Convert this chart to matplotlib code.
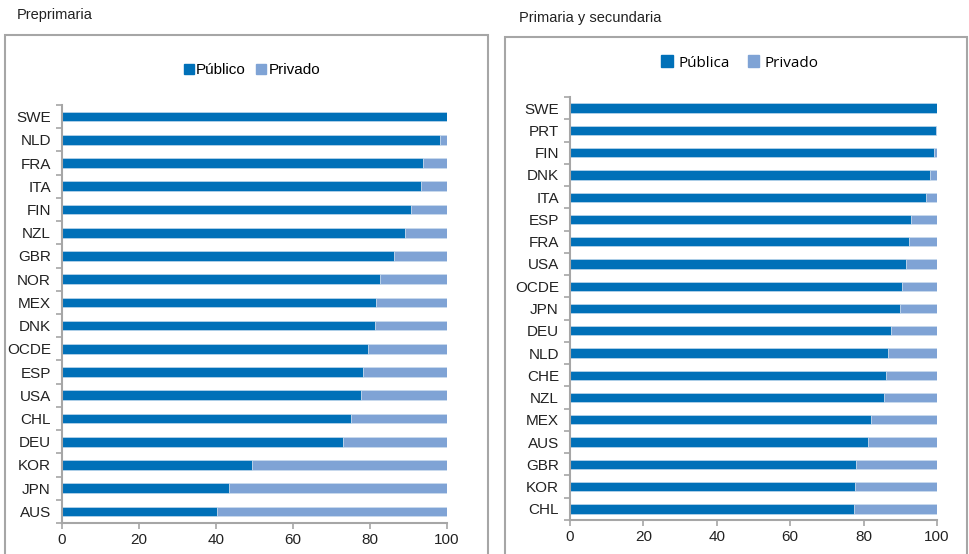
import matplotlib.pyplot as plt
from matplotlib.patches import Rectangle, Patch
from matplotlib.ticker import FixedLocator

# Preprimaria: share of public enrolment (%)
pre_countries = ["SWE", "NLD", "FRA", "ITA", "FIN", "NZL", "GBR", "NOR", "MEX",
                 "DNK", "OCDE", "ESP", "USA", "CHL", "DEU", "KOR", "JPN", "AUS"]
pre_public = [100.0, 98.3, 93.7, 93.2, 90.6, 89.2, 86.2, 82.5, 81.5,
              81.2, 79.4, 78.1, 77.7, 75.0, 73.0, 49.4, 43.4, 40.3]

# Primaria y secundaria: share of public enrolment (%)
prim_countries = ["SWE", "PRT", "FIN", "DNK", "ITA", "ESP", "FRA", "USA", "OCDE", "JPN",
                  "DEU", "NLD", "CHE", "NZL", "MEX", "AUS", "GBR", "KOR", "CHL"]
prim_public = [100.0, 99.8, 99.3, 98.2, 97.1, 93.0, 92.5, 91.6, 90.5, 89.9,
               87.5, 86.7, 86.0, 85.6, 82.1, 81.3, 78.0, 77.7, 77.3]

DARK = "#0070B8"
LIGHT = "#7FA3D5"
GRAY = "#A6A6A6"

plt.rcParams['font.family'] = ['Liberation Sans', 'DejaVu Sans']

fig = plt.figure(figsize=(9.7, 5.54), dpi=100)


def draw_panel(ax, countries, public):
    n = len(countries)
    pos = list(range(n - 1, -1, -1))
    private = [100 - v for v in public]
    ax.barh(pos, public, height=0.42, color=DARK, edgecolor="#CFE0F0", linewidth=0.4)
    ax.barh(pos, private, left=public, height=0.42, color=LIGHT, edgecolor="#CFE0F0", linewidth=0.4)
    ax.set_xlim(0, 100)
    ax.set_ylim(-0.5, n - 0.5)
    ax.set_yticks(pos)
    ax.set_yticklabels(countries, fontsize=11, color="#222222")
    ax.yaxis.set_minor_locator(FixedLocator([i - 0.5 for i in range(n + 1)]))
    ax.tick_params(axis="y", which="major", length=0, pad=8)
    ax.tick_params(axis="y", which="minor", length=4, color=GRAY, width=1.2)
    ax.set_xticks([0, 20, 40, 60, 80, 100])
    ax.tick_params(axis="x", length=4, color=GRAY, width=1.2, labelsize=11, labelcolor="#222222")
    for s in ["top", "right"]:
        ax.spines[s].set_visible(False)
    for s in ["left", "bottom"]:
        ax.spines[s].set_color(GRAY)
        ax.spines[s].set_linewidth(1.5)


# panel frames
fig.add_artist(Rectangle((5 / 970, -0.05), 483 / 970, 1.05 - 35 / 554, transform=fig.transFigure,
                         fill=False, edgecolor=GRAY, linewidth=1.5))
fig.add_artist(Rectangle((505 / 970, -0.05), 462 / 970, 1.05 - 37 / 554, transform=fig.transFigure,
                         fill=False, edgecolor=GRAY, linewidth=1.5))

fig.text(17 / 970, 1 - 15 / 554, "Preprimaria", fontsize=10.5, va="center", color="#222222")
fig.text(519 / 970, 1 - 18 / 554, "Primaria y secundaria", fontsize=10.5, va="center", color="#222222")

ax1 = fig.add_axes([62 / 970, 1 - 523 / 554, 385 / 970, 418 / 554])
draw_panel(ax1, pre_countries, pre_public)

ax2 = fig.add_axes([570 / 970, 1 - 520 / 554, 367 / 970, 423 / 554])
draw_panel(ax2, prim_countries, prim_public)

fig.legend(handles=[Patch(color=DARK, label="Público"), Patch(color=LIGHT, label="Privado")],
           loc="center", bbox_to_anchor=(252 / 970, 1 - 70 / 554), ncol=2, frameon=False,
           fontsize=11, handlelength=0.65, handleheight=0.65, handletextpad=0.15, columnspacing=0.7)
fig.legend(handles=[Patch(color=DARK, label="Pública"), Patch(color=LIGHT, label="Privado")],
           loc="center", bbox_to_anchor=(740 / 970, 1 - 63 / 554), ncol=2, frameon=False,
           prop={"family": "Open Sans", "size": 11}, handlelength=0.75, handleheight=0.85,
           handletextpad=0.35, columnspacing=1.2)

fig.savefig("out.png", dpi=100)
